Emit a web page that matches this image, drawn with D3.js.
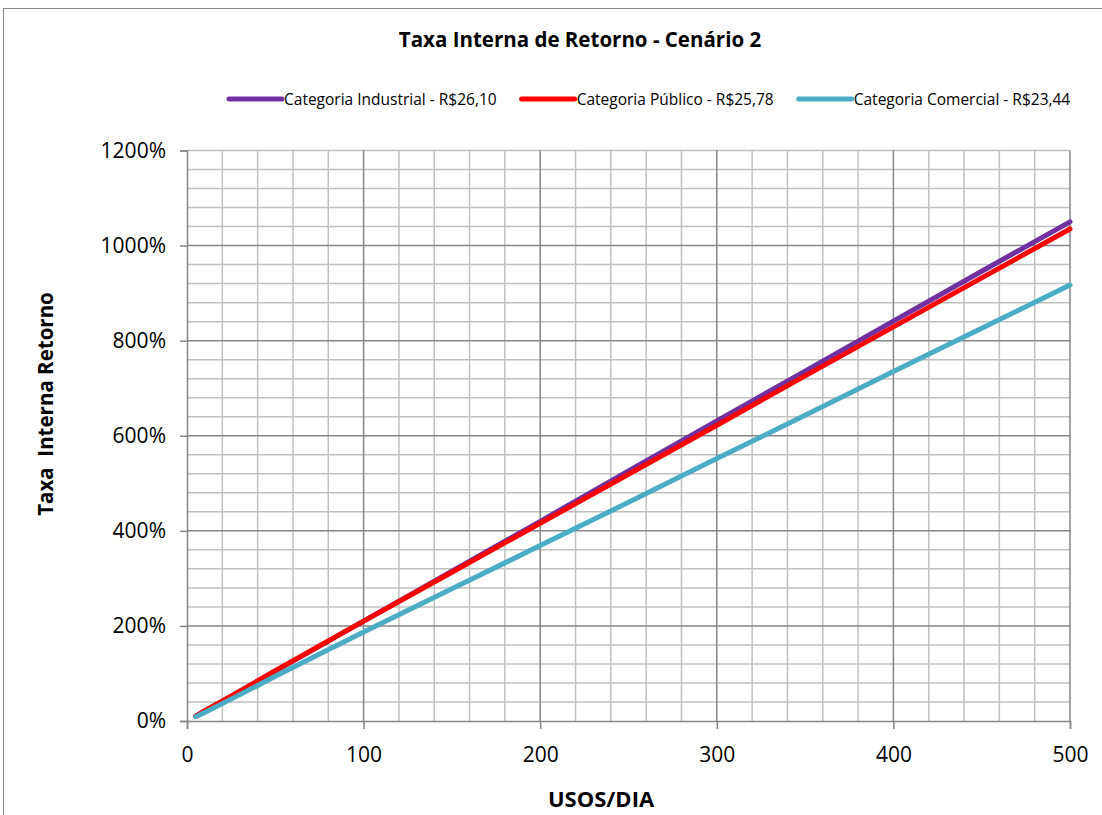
<!doctype html>
<html>
<head>
<meta charset="UTF-8" />
<script src="https://d3js.org/d3.v7.min.js"></script>
<style>
  body { margin: 0; background: #fff; }
  svg { font-family: "Open Sans", "Noto Sans", sans-serif; }
</style>
</head>
<body>
<svg id="chart" width="1102" height="815"></svg>
<script>
// data
const usos = [5, 10, 25, 50, 100, 150, 200, 250, 300, 350, 400, 450, 500];
const industrial = [10, 21, 52, 105, 210, 315, 420, 526, 631, 736, 841, 946, 1050];
const publico = [10, 21, 52, 106, 210, 313, 416, 519, 622, 726, 829, 932, 1035];
const comercial = [9, 18, 46, 94, 187, 278, 369, 460, 552, 643, 735, 826, 917];

const seriesNames = ["Categoria Industrial - R$26,10", "Categoria Público - R$25,78", "Categoria Comercial - R$23,44"];
const seriesColors = ["#7030a0", "#ff0000", "#4bacc6"];
const xTicks = [0, 100, 200, 300, 400, 500];
const yTicks = [0, 200, 400, 600, 800, 1000, 1200];

const svg = d3.select("#chart");
const plot = { left: 187, right: 1070, top: 150.5, bottom: 721 };

const x = d3.scaleLinear().domain([0, 500]).range([plot.left, plot.right]);
const y = d3.scaleLinear().domain([0, 1200]).range([plot.bottom, plot.top]);

// chart frame
svg.append("rect")
  .attr("x", 3.5).attr("y", 8.5)
  .attr("width", 1200).attr("height", 1000)
  .attr("fill", "none").attr("stroke", "#868686").attr("stroke-width", 1);

// title
svg.append("text")
  .attr("x", 580).attr("y", 47)
  .attr("text-anchor", "middle")
  .attr("font-size", 20.5).attr("font-weight", "bold")
  .text("Taxa Interna de Retorno - Cenário 2");

// grid, minor first then major
const grid = svg.append("g");
grid.selectAll(".vminor")
  .data(d3.range(20, 500, 20).filter(d => d % 100 !== 0))
  .enter().append("line")
  .attr("x1", d => x(d)).attr("x2", d => x(d))
  .attr("y1", plot.top).attr("y2", plot.bottom)
  .attr("stroke", "#c0c0c0").attr("stroke-width", 1.5);
grid.selectAll(".hminor")
  .data(d3.range(40, 1201, 40).filter(d => d % 200 !== 0 || d === 1200))
  .enter().append("line")
  .attr("x1", plot.left).attr("x2", plot.right)
  .attr("y1", d => y(d)).attr("y2", d => y(d))
  .attr("stroke", "#c0c0c0").attr("stroke-width", 1.5);
grid.selectAll(".vmajor")
  .data(xTicks.slice(1))
  .enter().append("line")
  .attr("x1", d => x(d)).attr("x2", d => x(d))
  .attr("y1", plot.top).attr("y2", plot.bottom)
  .attr("stroke", "#868686").attr("stroke-width", 1.5);
grid.selectAll(".hmajor")
  .data(yTicks.slice(1, -1))
  .enter().append("line")
  .attr("x1", plot.left).attr("x2", plot.right)
  .attr("y1", d => y(d)).attr("y2", d => y(d))
  .attr("stroke", "#868686").attr("stroke-width", 1.5);

// axes
const yAxis = d3.axisLeft(y).tickValues(yTicks).tickFormat(d => d + "%").tickSize(7).tickPadding(14);
const xAxis = d3.axisBottom(x).tickValues(xTicks).tickSize(8).tickPadding(18);

const gy = svg.append("g").attr("transform", "translate(" + plot.left + ",0)").call(yAxis);
const gx = svg.append("g").attr("transform", "translate(0," + plot.bottom + ")").call(xAxis);

[gx, gy].forEach(g => {
  g.select(".domain").attr("stroke", "#868686").attr("stroke-width", 1.5);
  g.selectAll(".tick line").attr("stroke", "#868686").attr("stroke-width", 1.5);
  g.selectAll(".tick text").attr("font-size", 21).attr("fill", "#000")
    .attr("font-family", "'Open Sans', sans-serif");
});

// axis titles
svg.append("text")
  .attr("x", 601).attr("y", 807)
  .attr("text-anchor", "middle")
  .attr("font-size", 22).attr("font-weight", "bold")
  .text("USOS/DIA");

svg.append("text")
  .attr("transform", "translate(53,404) rotate(-90)")
  .attr("text-anchor", "middle")
  .attr("font-size", 20.5).attr("font-weight", "bold")
  .attr("xml:space", "preserve")
  .style("white-space", "pre")
  .text("Taxa  Interna Retorno");

// lines
const allSeries = [industrial, publico, comercial];
const line = d3.line().x((d, i) => x(usos[i])).y(d => y(d));

svg.append("g").selectAll("path")
  .data(allSeries)
  .enter().append("path")
  .attr("d", d => line(d))
  .attr("fill", "none")
  .attr("stroke", (d, i) => seriesColors[i])
  .attr("stroke-width", 5)
  .attr("stroke-linecap", "round")
  .attr("stroke-linejoin", "round");

// legend
const legend = svg.append("g");
let lx = 229;
seriesNames.forEach((name, i) => {
  legend.append("line")
    .attr("x1", lx).attr("x2", lx + 53)
    .attr("y1", 99).attr("y2", 99)
    .attr("stroke", seriesColors[i]).attr("stroke-width", 5)
    .attr("stroke-linecap", "round");
  const t = legend.append("text")
    .attr("x", lx + 55).attr("y", 104.5)
    .attr("font-size", 15.5)
    .text(name);
  lx += 55 + t.node().getComputedTextLength() + 25;
});
</script>
</body>
</html>
